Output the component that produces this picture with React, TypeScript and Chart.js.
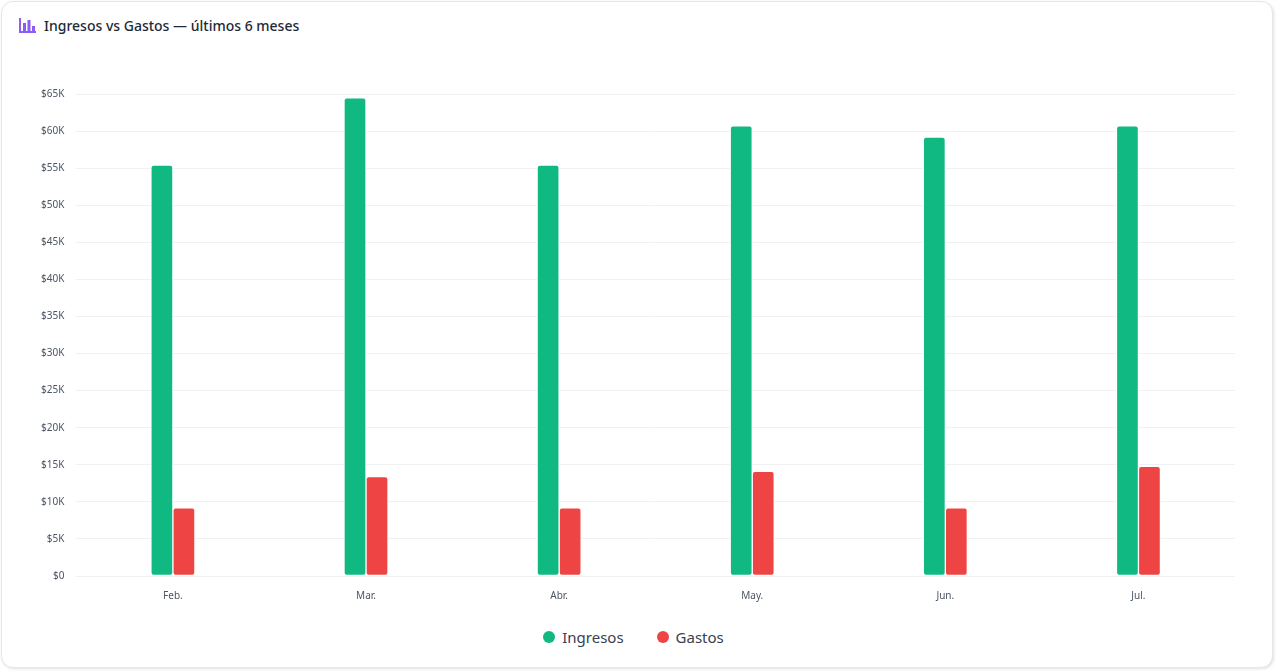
import { useEffect, useRef } from 'react'
import Chart from 'chart.js/auto'
import type { ChartConfiguration } from 'chart.js'

const months = ['Feb.', 'Mar.', 'Abr.', 'May.', 'Jun.', 'Jul.']
const ingresos = [55400, 64500, 55400, 60700, 59200, 60700]
const gastos = [9200, 13400, 9200, 14100, 9200, 14800]

const seriesNames = ['Ingresos', 'Gastos']
const seriesColors = ['#10b981', '#ef4444']

const FONT = "'Noto Sans', 'Open Sans', sans-serif"

function BarIcon() {
  return (
    <svg width="17" height="15" viewBox="0 0 17 15" style={{ display: 'block' }}>
      <rect x="0" y="0" width="2" height="15" fill="#8b5cf6" />
      <rect x="0" y="13" width="17" height="2" fill="#8b5cf6" />
      <rect x="4" y="5" width="3" height="9" fill="#8b5cf6" />
      <rect x="8.5" y="2" width="3" height="12" fill="#8b5cf6" />
      <rect x="13" y="8" width="3" height="6" fill="#8b5cf6" />
    </svg>
  )
}

export default function App() {
  const canvasRef = useRef<HTMLCanvasElement>(null)
  const chartRef = useRef<Chart | null>(null)

  useEffect(() => {
    if (!canvasRef.current) return
    document.body.style.margin = '0'

    const config: ChartConfiguration<'bar'> = {
      type: 'bar',
      data: {
        labels: months,
        datasets: [
          {
            label: seriesNames[0],
            data: ingresos,
            backgroundColor: seriesColors[0],
            borderColor: '#ffffff',
            borderWidth: 1,
            borderRadius: 3,
            borderSkipped: false,
            barThickness: 22,
          },
          {
            label: seriesNames[1],
            data: gastos,
            backgroundColor: seriesColors[1],
            borderColor: '#ffffff',
            borderWidth: 1,
            borderRadius: 3,
            borderSkipped: false,
            barThickness: 22,
          },
        ],
      },
      options: {
        animation: false,
        responsive: true,
        maintainAspectRatio: false,
        plugins: {
          legend: { display: false },
          tooltip: { enabled: false },
        },
        scales: {
          x: {
            grid: { display: false },
            border: { display: false },
            ticks: { color: '#4b5563', font: { family: FONT, size: 10 }, padding: 6 },
          },
          y: {
            min: 0,
            max: 65000,
            border: { display: false },
            grid: { color: '#f1f1f3', drawTicks: false },
            ticks: {
              stepSize: 5000,
              color: '#4b5563',
              padding: 12,
              font: { family: FONT, size: 10 },
              callback: (v: any) => (v === 0 ? '$0' : `$${Number(v) / 1000}K`),
            },
          },
        },
      },
    }

    chartRef.current = new Chart(canvasRef.current, config)
    return () => {
      if (chartRef.current) chartRef.current.destroy()
    }
  }, [])

  return (
    <div
      style={{
        position: 'absolute',
        left: 1,
        top: 1,
        width: 1272,
        height: 667,
        boxSizing: 'border-box',
        border: '1px solid #e5e7eb',
        borderRadius: 12,
        background: '#fff',
        boxShadow: '1px 1px 3px rgba(0,0,0,0.12)',
        fontFamily: FONT,
      }}
    >
      <div
        style={{
          position: 'absolute',
          left: 17,
          top: 14,
          display: 'flex',
          alignItems: 'center',
          gap: 8,
          fontSize: 14,
          fontWeight: 500,
          color: '#1f2937',
        }}
      >
        <BarIcon />
        <span>Ingresos vs Gastos — últimos 6 meses</span>
      </div>
      <div style={{ position: 'absolute', left: 27, top: 74, right: 37, height: 532 }}>
        <canvas ref={canvasRef} />
      </div>
      <div
        style={{
          position: 'absolute',
          left: 0,
          right: 7,
          top: 625,
          display: 'flex',
          justifyContent: 'center',
          gap: 33,
          fontSize: 15,
          color: '#374151',
        }}
      >
        {seriesNames.map((name, i) => (
          <div key={name} style={{ display: 'flex', alignItems: 'center', gap: 7 }}>
            <span
              style={{
                width: 12,
                height: 12,
                borderRadius: '50%',
                background: seriesColors[i],
                display: 'inline-block',
              }}
            />
            <span>{name}</span>
          </div>
        ))}
      </div>
    </div>
  )
}
